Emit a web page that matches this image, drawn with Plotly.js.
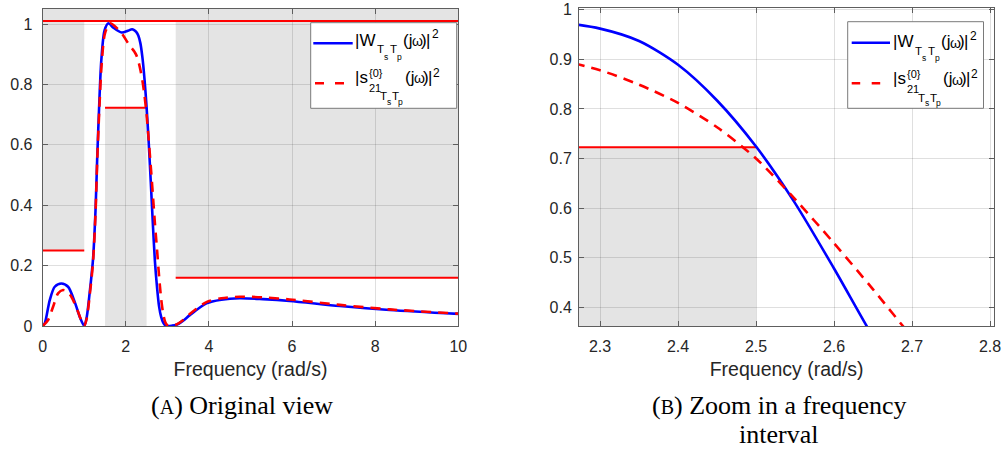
<!DOCTYPE html>
<html>
<head>
<meta charset="utf-8">
<script src="https://cdn.plot.ly/plotly-3.0.1.min.js"></script>
<style>html,body{margin:0;padding:0;background:#fff;}#chart{width:1007px;height:450px;}</style>
</head>
<body>
<div id="chart"></div>
<script>
// ---------- data ----------
// |W_{TsTp}(jw)|^2  (solid blue)
const wFreq = [0, 0.05, 0.17, 0.29, 0.45, 0.61, 0.77, 0.89, 1.0, 1.06, 1.13, 1.21, 1.27, 1.31, 1.355, 1.41, 1.49, 1.58, 1.7, 1.9, 2.05, 2.15, 2.2, 2.25, 2.3, 2.35, 2.4, 2.45, 2.5, 2.55, 2.6, 2.65, 2.7, 2.75, 2.8, 2.85, 2.9, 2.95, 3.0, 3.1, 3.22, 3.38, 3.54, 3.94, 4.3, 4.74, 5.3, 5.94, 7.15, 8.35, 10];
const wMag  = [0, 0.009, 0.086, 0.13, 0.141, 0.13, 0.08, 0.031, 0, 0.03, 0.11, 0.22, 0.38, 0.55, 0.715, 0.88, 0.98, 1.003, 0.988, 0.972, 0.978, 0.983, 0.980, 0.974, 0.962, 0.937, 0.889, 0.817, 0.724, 0.610, 0.478, 0.340, 0.215, 0.13, 0.065, 0.03, 0.011, 0.002, 0, 0.001, 0.004, 0.018, 0.036, 0.075, 0.087, 0.092, 0.089, 0.083, 0.066, 0.053, 0.04];
// |s21^{0}_{TsTp}(jw)|^2  (dashed red)
const sFreq = [0, 0.13, 0.25, 0.37, 0.49, 0.58, 0.69, 0.85, 0.93, 1.0, 1.06, 1.13, 1.21, 1.27, 1.31, 1.36, 1.42, 1.5, 1.62, 1.8, 1.93, 2.05, 2.15, 2.2, 2.25, 2.3, 2.35, 2.4, 2.45, 2.5, 2.55, 2.6, 2.65, 2.7, 2.75, 2.8, 2.85, 2.9, 2.95, 3.0, 3.05, 3.2, 3.38, 3.54, 3.94, 4.3, 4.74, 5.3, 5.94, 7.15, 8.35, 10];
const sMag  = [0, 0.02, 0.064, 0.108, 0.119, 0.115, 0.097, 0.047, 0.018, 0, 0.025, 0.1, 0.21, 0.37, 0.54, 0.71, 0.87, 0.97, 1.003, 0.985, 0.964, 0.938, 0.919, 0.910, 0.898, 0.878, 0.849, 0.812, 0.763, 0.700, 0.618, 0.529, 0.436, 0.340, 0.255, 0.165, 0.09, 0.04, 0.012, 0.002, 0, 0.004, 0.02, 0.04, 0.079, 0.092, 0.097, 0.095, 0.088, 0.07, 0.055, 0.041];
// specification bounds
const boundStart = [0, 1.5, 3.2, 0];
const boundEnd   = [1, 2.5, 10, 10];
const boundLevel = [0.25, 0.7225, 0.16, 1.01];
const boundKind  = ['upper', 'lower', 'upper', 'upper'];
// tick labels
const leftXTicks = [0, 2, 4, 6, 8, 10];
const leftYTicks = [0, 0.2, 0.4, 0.6, 0.8, 1];
const leftYLabels = ['0', '0.2', '0.4', '0.6', '0.8', '1'];
const rightXTicks = [2.3, 2.4, 2.5, 2.6, 2.7, 2.8];
const rightXLabels = ['2.3', '2.4', '2.5', '2.6', '2.7', '2.8'];
const rightYTicks = [0.4, 0.5, 0.6, 0.7, 0.8, 0.9, 1];
const rightYLabels = ['0.4', '0.5', '0.6', '0.7', '0.8', '0.9', '1'];
const xTitle = 'Frequency (rad/s)';

// ---------- layout helpers ----------
const W = 1007, H = 450;
const px = v => v / W;
const py = v => 1 - v / H;
const SANS = 'Liberation Sans, Arial, sans-serif';
const SERIF = 'Liberation Serif, Times New Roman, serif';
const BLUE = '#0000ff', RED = '#ff0000', SHADE = '#e4e4e4';

const LEFT = {x0: 42.7, x1: 458.3, y0: 9, y1: 326, xr: [0, 10], yr: [0, 1.05]};
const RIGHT = {x0: 579, x1: 994.3, y0: 8.3, y1: 326, xr: [2.273, 2.8055], yr: [0.362, 1.003]};

function axisBase() {
  return {
    showline: true, linecolor: '#5e5e5e', linewidth: 1, mirror: 'ticks',
    ticks: 'inside', ticklen: 5, tickcolor: '#5e5e5e', tickwidth: 1,
    showgrid: true, gridcolor: 'rgba(38,38,38,0.15)', gridwidth: 1,
    zeroline: false, fixedrange: true,
    tickfont: {family: SANS, size: 16, color: '#262626'}
  };
}

const traces = [];
[['x', 'y'], ['x2', 'y2']].forEach(([xa, ya]) => {
  for (let i = 0; i < boundStart.length; i++) {
    traces.push({x: [boundStart[i], boundEnd[i]], y: [boundLevel[i], boundLevel[i]],
      xaxis: xa, yaxis: ya, mode: 'lines', line: {color: RED, width: 2},
      showlegend: false, hoverinfo: 'skip'});
  }
  traces.push({x: wFreq, y: wMag, xaxis: xa, yaxis: ya, mode: 'lines',
    line: {color: BLUE, width: 2.6, shape: 'spline', smoothing: 0.8}, showlegend: false});
  traces.push({x: sFreq, y: sMag, xaxis: xa, yaxis: ya, mode: 'lines',
    line: {color: RED, width: 2.6, dash: '10px,7px', shape: 'spline', smoothing: 0.8}, showlegend: false});
});

const shapes = [];
[['x', 'y', LEFT], ['x2', 'y2', RIGHT]].forEach(([xa, ya, A]) => {
  for (let i = 0; i < boundStart.length; i++) {
    const up = boundKind[i] === 'upper';
    shapes.push({type: 'rect', xref: xa, yref: ya, layer: 'below', line: {width: 0},
      fillcolor: SHADE, x0: boundStart[i], x1: boundEnd[i],
      y0: up ? boundLevel[i] : Math.min(0, A.yr[0]), y1: up ? Math.max(1.05, A.yr[1]) : boundLevel[i]});
  }
});

const annotations = [];
function txt(str, x, baseline, size, family, anchor) {
  annotations.push({xref: 'paper', yref: 'paper', x: px(x), y: py(baseline - 0.3465 * size),
    xanchor: anchor || 'left', yanchor: 'middle', showarrow: false, borderpad: 0, borderwidth: 0,
    text: str, font: {family: family || SANS, size: size, color: '#000'}});
}

function legend(box, blueLine, redLine, redDash, tx, b1, b2) {
  shapes.push({type: 'rect', xref: 'paper', yref: 'paper', layer: 'above',
    x0: px(box[0]), x1: px(box[1]), y0: py(box[3]), y1: py(box[2]),
    fillcolor: '#ffffff', line: {color: '#7a7a7a', width: 1}});
  shapes.push({type: 'line', xref: 'paper', yref: 'paper', layer: 'above',
    x0: px(blueLine[0]), x1: px(blueLine[1]), y0: py(blueLine[2]), y1: py(blueLine[2]),
    line: {color: BLUE, width: 2.6}});
  shapes.push({type: 'line', xref: 'paper', yref: 'paper', layer: 'above',
    x0: px(redLine[0]), x1: px(redLine[1]), y0: py(redLine[2]), y1: py(redLine[2]),
    line: {color: RED, width: 2.6, dash: redDash}});
  // row 1 : |W_{T_s T_p}(jω)|^2
  txt('|W', tx, b1, 17);
  txt('T', tx + 22, b1 + 7.3, 11.5);
  txt('s', tx + 29, b1 + 13.5, 8.5);
  txt('T', tx + 35, b1 + 7.3, 11.5);
  txt('p', tx + 41.5, b1 + 13.5, 8.5);
  txt('(j', tx + 48, b1, 17);
  txt('ω', tx + 57, b1, 14);
  txt(')', tx + 65.5, b1, 17);
  txt('|', tx + 71, b1, 17);
  txt('2', tx + 76.5, b1 - 7.7, 12);
  // row 2 : |s^{0}_{21_{T_s T_p}}(jω)|^2
  txt('|s', tx, b2, 17);
  txt('{0}', tx + 14, b2 - 6.3, 11);
  txt('21', tx + 13.5, b2 + 8.7, 11);
  txt('T', tx + 25.3, b2 + 17, 11.5);
  txt('s', tx + 32.3, b2 + 21.5, 8.5);
  txt('T', tx + 36.5, b2 + 17, 11.5);
  txt('p', tx + 43, b2 + 21.5, 8.5);
  txt('(j', tx + 50, b2, 17);
  txt('ω', tx + 59, b2, 14);
  txt(')', tx + 67.5, b2, 17);
  txt('|', tx + 73, b2, 17);
  txt('2', tx + 78.3, b2 - 6.3, 12);
}
legend([310.7, 456.7, 22.7, 108.3], [313.3, 352.7, 43.3], [315, 344, 83.3], '9px,11px', 355, 46, 83);
legend([847.7, 983.5, 21.7, 108.3], [851.7, 890, 42.7], [851.7, 880.7, 83.3], '8.5px,11.5px', 893, 47.5, 84.5);

// captions
txt('(<span style="font-size:20px">A</span>) Original view', 241.5, 415, 26, SERIF, 'center');
txt('(<span style="font-size:20px">B</span>) Zoom in a frequency', 779, 415, 26, SERIF, 'center');
txt('interval', 778.5, 443.3, 26, SERIF, 'center');

const layout = {
  width: W, height: H, margin: {l: 0, r: 0, t: 0, b: 0},
  paper_bgcolor: '#ffffff', plot_bgcolor: '#ffffff', showlegend: false,
  xaxis: Object.assign(axisBase(), {domain: [px(LEFT.x0), px(LEFT.x1)], range: LEFT.xr, anchor: 'y',
    tickvals: leftXTicks, ticklabelstandoff: 6,
    title: {text: xTitle, font: {family: SANS, size: 19.5, color: '#262626'}, standoff: 8}}),
  yaxis: Object.assign(axisBase(), {domain: [py(LEFT.y1), py(LEFT.y0)], range: LEFT.yr, anchor: 'x',
    tickvals: leftYTicks, ticktext: leftYLabels, ticklabelstandoff: 6}),
  xaxis2: Object.assign(axisBase(), {domain: [px(RIGHT.x0), px(RIGHT.x1)], range: RIGHT.xr, anchor: 'y2',
    tickvals: rightXTicks, ticktext: rightXLabels, ticklabelstandoff: 6,
    title: {text: xTitle, font: {family: SANS, size: 19.5, color: '#262626'}, standoff: 8}}),
  yaxis2: Object.assign(axisBase(), {domain: [py(RIGHT.y1), py(RIGHT.y0)], range: RIGHT.yr, anchor: 'x2',
    tickvals: rightYTicks, ticktext: rightYLabels, ticklabelstandoff: 3}),
  shapes: shapes, annotations: annotations
};

Plotly.newPlot('chart', traces, layout, {staticPlot: true, displayModeBar: false});
</script>
</body>
</html>
